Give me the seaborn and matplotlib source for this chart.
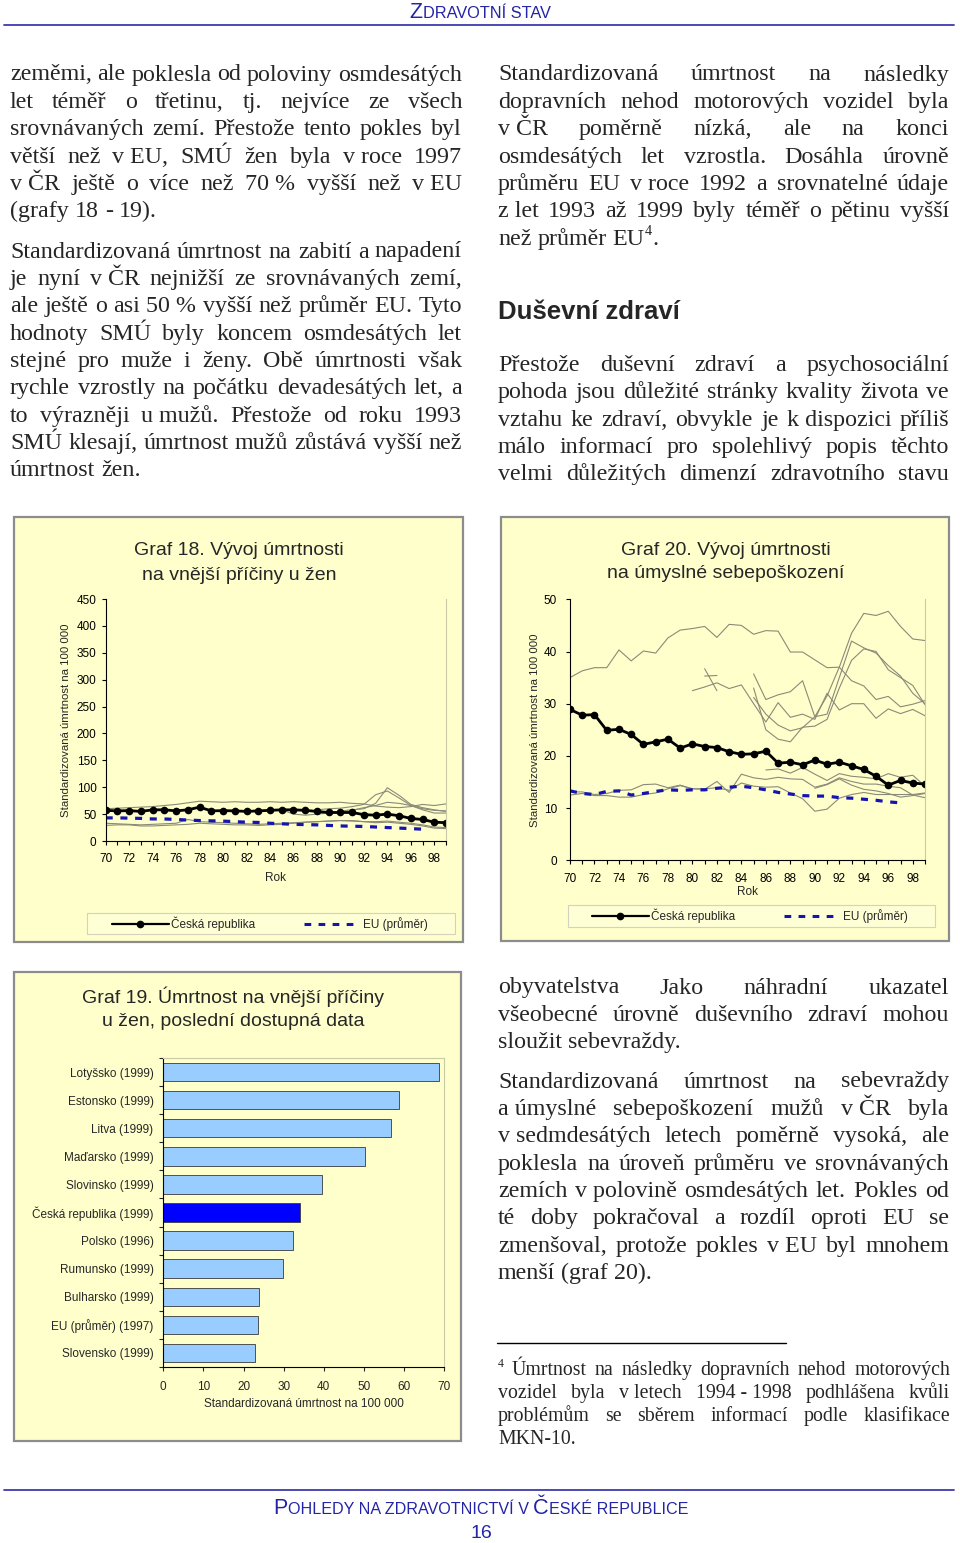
import numpy as np
import pandas as pd
import seaborn as sns
import matplotlib.pyplot as plt
from matplotlib.patches import Rectangle
from matplotlib.lines import Line2D

W, H = 960, 1543
SERIF = 'Liberation Serif'
SANS = 'Liberation Sans'

# ---- data: Graf 18 (vnější příčiny, ženy) ----
years = list(range(70, 100))
g18_cr = [57, 56, 56.5, 55, 58, 58, 56, 58, 63, 56, 56.5, 56, 55, 56, 57,
          58, 58, 57, 55, 53, 53, 53, 49, 48, 50, 47, 42, 40, 35, 34]
g18_eu = [43, 43, 42.5, 42, 41, 41, 40, 39, 38, 37.5, 37, 36, 35, 34.5, 33,
          32, 31, 30.5, 30, 29, 28, 27.5, 27, 26, 25, 24, 23, 22]
g18_other_a = [60, 61, 62, 63, 64, 66, 68, 71, 74, 73, 72, 73, 72, 72, 73,
               72, 73, 72, 71, 71, 72, 70, 69, 65, 63, 62, 64, 68, 66, 69]
g18_other_b = [58, 60, 61, 64, 68, 86, 93, 80, 66, 60, 57, 56]
g18_other_c = [56, 58, 60, 70, 99, 85, 68, 62, 58, 55]
g18_other_d = [58, 50, 48, 50, 52, 55, 57, 62, 66, 72, 70, 66, 58, 52, 52]
g18_other_e = [33, 32, 31, 30, 31, 32, 33, 40, 36, 35, 34, 33, 32, 31, 32,
               33, 34, 35, 36, 37, 38, 38, 36, 34, 35, 33, 31, 28, 24, 23]
g18_other_f = [29, 30, 30, 28, 28, 29, 30, 31, 33, 32, 31, 30, 30, 29, 30,
               31, 33, 35, 36, 37, 38, 37, 36, 36, 37, 35, 33, 30, 26, 25]
g18_other_start = [70, 88, 90, 85, 70, 70]

# ---- data: Graf 20 (úmyslné sebepoškození) ----
g20_cr = [28.9, 27.8, 27.9, 24.9, 25.1, 24.1, 22.2, 22.7, 23.2, 21.5, 22.3,
          21.8, 21.6, 20.8, 20.3, 20.4, 20.9, 18.6, 18.8, 18.3, 19.2, 18.4,
          18.8, 18.1, 17.4, 16.1, 14.4, 15.3, 14.8, 14.6]
g20_eu = [13.3, 12.8, 12.6, 13.2, 13.3, 12.5, 12.8, 13.2, 13.5, 13.4, 13.5,
          13.5, 13.8, 14.0, 14.2, 13.9, 13.5, 13.0, 12.7, 12.4, 12.3, 12.3,
          12.0, 11.9, 11.7, 11.5, 11.2, 11.0]
g20_other_a = [35, 36.3, 36.9, 36.9, 40.3, 38.2, 40.1, 39.7, 42.6, 44.1, 44.4,
               44.8, 42.7, 45.2, 45.0, 43.3, 44.0, 43.9, 39.9, 39.9, 38.4, 36.9,
               37.0, 34.4, 33.4, 30.8, 31.4, 29.4, 29.9, 30.6]
g20_other_b = [35.7, 30.8, 31.7, 32.3, 34.4, 27.5, 31.5, 37, 43.5, 47.3, 46.9,
               47.7, 44.8, 42.4, 42.1]
g20_other_c = [32.5, 33.2, 34, 32.9, 33.6, 30, 26.5, 30.2, 27.4, 28, 27, 32,
               28.8, 30, 30, 27.2, 29, 28.1, 28.9, 27.7]
g20_other_d = [31.2, 28, 25.9, 24.8, 25.4, 27.5, 28, 35, 42, 40.7, 39.7, 37.3,
               35.3, 32, 30]
g20_other_e = [33, 25, 23.2, 22.7, 25.5, 25.7, 27, 33, 38.3, 40.5, 40, 36.5,
               35, 33.5, 29.8]
g20_other_g = [36.7, 32.5]
g20_other_h = [35.3, 35.4]
g20_other_i = [12.5, 12.8, 12.4, 12.4, 12.1, 12.1, 12.6, 12.9, 13.7, 14.3, 13.7,
               13.6, 15.1, 13.0, 16.5, 15.8, 15.5, 15.9, 15.6, 15.5, 14.0, 14.6,
               15.8, 15.1, 14.6, 14.6, 14.2, 13.9, 12.5, 12.0]
g20_other_j = [13.1, 13.1, 12.6, 12.8, 13.4, 13.5, 14.5, 14.6, 13.9, 14.4, 13.7,
               13.7, 13.9, 13.4, 14.8, 14.2, 14.0, 14.1, 12.9, 11.8, 9.4, 9.8,
               11.9, 12.6, 13.0, 12.6, 12.6, 12.6, 12.6, 12.9]
g20_other_k = [17.3, 17.5, 16.7, 17.8, 16.5, 15.3, 16.6, 16.1, 15.9, 15.6, 16.6,
               15.9, 16.3, 14.2]
g20_other_l = [13.8, 14.5, 15.6, 14.4, 13.6, 13.3, 12.8, 12.1, 12.4, 12.8]
g20_other_start = [70, 85, 80, 85, 85, 81, 81, 70, 70, 86, 90]

# ---- data: Graf 19 (poslední dostupná data) ----
g19_countries = ['Lotyšsko (1999)', 'Estonsko (1999)', 'Litva (1999)',
                 'Maďarsko (1999)', 'Slovinsko (1999)', 'Česká republika (1999)',
                 'Polsko (1996)', 'Rumunsko (1999)', 'Bulharsko (1999)',
                 'EU (průměr) (1997)', 'Slovensko (1999)']
g19_values = [68.7, 58.7, 56.7, 50.4, 39.5, 34.1, 32.4, 29.8, 23.9, 23.5, 22.8]
g19_colors = ['#0000FF' if c.startswith('Česká') else '#99CCFF' for c in g19_countries]

YELLOW = '#FFFFCC'
GRAY_LINE = '#8a8a78'
EU_BLUE = '#1414B0'
PALE = '#C9C9A6'
HEAD_BLUE = '#2424A8'

sns.set_style('ticks')
plt.rcParams['font.family'] = [SANS, 'DejaVu Sans']

fig = plt.figure(figsize=(W / 100, H / 100), dpi=100)
fig.patch.set_facecolor('white')
renderer = fig.canvas.get_renderer()


def fx(x):
    return x / W


def fy(y):
    return 1 - y / H


def measure(s, size, family, weight='normal'):
    t = fig.text(0, 0, s, fontsize=size, family=family, weight=weight)
    w = t.get_window_extent(renderer=renderer).width
    t.remove()
    return w


def segments(word, size):
    parts = word.replace('~', '\u00a0').split('^')
    out = []
    for i, p in enumerate(parts):
        if not p:
            continue
        if i % 2:
            out.append((p, size * 0.6, size * 0.42 * 100 / 72))
        else:
            out.append((p, size, 0))
    return out


def draw_line(line, x0, x1, base, size, justify=True, family=SERIF):
    words = line.split(' ')
    segs = [segments(w, size) for w in words]
    widths = [sum(measure(s, fs, family) for s, fs, _ in sg) for sg in segs]
    if justify and len(words) > 1:
        gap = (x1 - x0 - sum(widths)) / (len(words) - 1)
    else:
        gap = measure('a a', size, family) - measure('aa', size, family)
    x = x0
    for sg in segs:
        for s, fs, dy in sg:
            fig.text(fx(x), fy(base - dy), s, fontsize=fs, family=family,
                     ha='left', va='baseline')
            x += measure(s, fs, family)
        x += gap


def paragraph(lines, x0, x1, base0, step, size, justify_last=False):
    for i, line in enumerate(lines):
        last = i == len(lines) - 1
        draw_line(line, x0, x1, base0 + i * step, size,
                  justify=(not last) or justify_last)


def small_caps(pieces, cx, base, color):
    widths = [measure(s, fs, SANS) + extra for s, fs, extra in pieces]
    x = cx - sum(widths) / 2
    for (s, fs, extra), w in zip(pieces, widths):
        fig.text(fx(x), fy(base), s, fontsize=fs, family=SANS, color=color,
                 ha='left', va='baseline')
        x += w


def panel(x0, y0, x1, y1):
    fig.add_artist(Rectangle((fx(x0), fy(y1)), (x1 - x0) / W, (y1 - y0) / H,
                             transform=fig.transFigure, facecolor=YELLOW,
                             edgecolor='#8c8c8c', lw=1.6, zorder=-1))


def axes_px(x0, y0, x1, y1):
    ax = fig.add_axes([fx(x0), fy(y1), (x1 - x0) / W, (y1 - y0) / H])
    ax.patch.set_alpha(0)
    return ax


def others_frame(series, starts):
    rows = []
    for k, (vals, st) in enumerate(zip(series, starts)):
        for i, v in enumerate(vals):
            rows.append({'year': st + i, 'value': v, 'country': k})
    return pd.DataFrame(rows)


def line_chart(ax, cr, eu, others, ymax, ystep):
    sns.lineplot(data=others, x='year', y='value', units='country',
                 estimator=None, color=GRAY_LINE, lw=0.8, ax=ax, legend=False)
    sns.lineplot(x=years[:len(eu)], y=eu, color=EU_BLUE, lw=2.3,
                 linestyle=(0, (2.2, 2.4)), ax=ax)
    sns.lineplot(x=years, y=cr, color='black', lw=2, marker='o',
                 markersize=5.5, markeredgecolor='black', markeredgewidth=0, ax=ax)
    ax.set_xlim(70, 99)
    ax.set_ylim(0, ymax)
    ax.set_xticks(years)
    ax.set_xticklabels([str(y) if y % 2 == 0 else '' for y in years])
    ax.set_yticks(np.arange(0, ymax + 1, ystep))
    ax.tick_params(axis='both', direction='out', length=3, width=0.8,
                   labelsize=8.5, colors='black')
    for s in ['left', 'bottom']:
        ax.spines[s].set_color('black')
        ax.spines[s].set_linewidth(0.8)
    ax.spines['top'].set_visible(False)
    ax.spines['right'].set_visible(True)
    ax.spines['right'].set_color(PALE)
    ax.spines['right'].set_linewidth(0.8)
    ax.set_xlabel('Rok', fontsize=8.5)
    ax.set_ylabel('Standardizovaná úmrtnost na 100 000', fontsize=8.2)


legend_handles = [
    Line2D([], [], color='black', lw=1.6, marker='o', markersize=4.5),
    Line2D([], [], color=EU_BLUE, lw=2.2, linestyle=(0, (2.2, 2.4))),
]
legend_labels = ['Česká republika', 'EU (průměr)']


def legend_box(x0, y0, x1, y1, hx):
    fig.add_artist(Rectangle((fx(x0), fy(y1)), (x1 - x0) / W, (y1 - y0) / H,
                             transform=fig.transFigure, facecolor='#FFFFD6',
                             edgecolor='#D2D2BE', lw=0.8, zorder=1))
    fig.legend(legend_handles, legend_labels, loc='center left',
               bbox_to_anchor=(fx(hx), fy((y0 + y1) / 2)), frameon=False,
               ncol=2, handlelength=4.8, handletextpad=0.2, columnspacing=4.1,
               fontsize=8.5, borderpad=0, borderaxespad=0)


# ---- header / footer ----
small_caps([('Z', 15.5, 0), ('DRAVOTNÍ STAV', 11.8, 0)], 480, 18, HEAD_BLUE)
fig.add_artist(Line2D([fx(4), fx(954)], [fy(25), fy(25)], color='#3c3cae', lw=1.3))
fig.add_artist(Line2D([fx(4), fx(954)], [fy(1490), fy(1490)], color='#3c3cae', lw=1.3))
small_caps([('P', 15.5, 0), ('OHLEDY NA ZDRAVOTNICTVÍ V', 11.6, 4.5), ('Č', 15.5, 0),
            ('ESKÉ REPUBLICE', 11.6, 0)], 481, 1514, HEAD_BLUE)
fig.text(fx(481), fy(1538), '16', fontsize=14, family=SANS, color=HEAD_BLUE,
         ha='center', va='baseline')

# ---- body text ----
BODY = 17.3
STEP = 27.35
paragraph(['zeměmi, ale poklesla od poloviny osmdesátých',
           'let téměř o třetinu, tj. nejvíce ze všech',
           'srovnávaných zemí. Přestože tento pokles byl',
           'větší než v~EU, SMÚ žen byla v~roce 1997',
           'v~ČR ještě o více než 70~% vyšší než v~EU',
           '(grafy 18 - 19).'], 10, 462, 80.5, STEP, BODY)
paragraph(['Standardizovaná úmrtnost na zabití a napadení',
           'je nyní v~ČR nejnižší ze srovnávaných zemí,',
           'ale ještě o asi 50~% vyšší než průměr EU. Tyto',
           'hodnoty SMÚ byly koncem osmdesátých let',
           'stejné pro muže i ženy. Obě úmrtnosti však',
           'rychle vzrostly na počátku devadesátých let, a',
           'to výrazněji u~mužů. Přestože od roku 1993',
           'SMÚ klesají, úmrtnost mužů zůstává vyšší než',
           'úmrtnost žen.'], 10, 462, 257.5, STEP, BODY)
paragraph(['Standardizovaná úmrtnost na následky',
           'dopravních nehod motorových vozidel byla',
           'v~ČR poměrně nízká, ale na konci',
           'osmdesátých let vzrostla. Dosáhla úrovně',
           'průměru EU v~roce 1992 a srovnatelné údaje',
           'z~let 1993 až 1999 byly téměř o pětinu vyšší',
           'než průměr EU^4^.'], 498, 949, 80.5, STEP, BODY)
fig.text(fx(498), fy(319), 'Duševní zdraví', fontsize=18.5, family=SANS,
         weight='bold', ha='left', va='baseline')
paragraph(['Přestože duševní zdraví a psychosociální',
           'pohoda jsou důležité stránky kvality života ve',
           'vztahu ke zdraví, obvykle je k~dispozici příliš',
           'málo informací pro spolehlivý popis těchto',
           'velmi důležitých dimenzí zdravotního stavu'],
          498, 949, 371, STEP, BODY, justify_last=True)
paragraph(['obyvatelstva Jako náhradní ukazatel',
           'všeobecné úrovně duševního zdraví mohou',
           'sloužit sebevraždy.'], 498, 949, 993.5, STEP, BODY)
paragraph(['Standardizovaná úmrtnost na sebevraždy',
           'a~úmyslné sebepoškození mužů v~ČR byla',
           'v~sedmdesátých letech poměrně vysoká, ale',
           'poklesla na úroveň průměru ve srovnávaných',
           'zemích v~polovině osmdesátých let. Pokles od',
           'té doby pokračoval a rozdíl oproti EU se',
           'zmenšoval, protože pokles v~EU byl mnohem',
           'menší (graf 20).'], 498, 949, 1087.5, STEP, BODY)
fig.add_artist(Line2D([fx(497), fx(786)], [fy(1342.5), fy(1342.5)], color='black', lw=1))
paragraph(['^4^ Úmrtnost na následky dopravních nehod motorových',
           'vozidel byla v~letech 1994~-~1998 podhlášena kvůli',
           'problémům se sběrem informací podle klasifikace',
           'MKN-10.'], 498, 950, 1375, 23.1, 14.3)

# ---- Graf 18 ----
panel(14, 517, 463, 942)
fig.text(fx(239), fy(550), 'Graf 18. Vývoj úmrtnosti', fontsize=14, ha='center', va='center')
fig.text(fx(239), fy(576), 'na vnější příčiny u žen', fontsize=14, ha='center', va='center')
ax18 = axes_px(105.7, 599, 446, 841)
g18_others = others_frame([g18_other_a, g18_other_b, g18_other_c, g18_other_d,
                           g18_other_e, g18_other_f], g18_other_start)
line_chart(ax18, g18_cr, g18_eu, g18_others, 450, 50)
ax18.tick_params(axis='x', pad=6)
ax18.tick_params(axis='y', pad=3.6)
ax18.yaxis.set_label_coords((66 - 105.7) / 340.3, 0.5)
ax18.yaxis.label.set(va='center', ha='center')
ax18.xaxis.set_label_coords(0.5, (841 - 878) / 242)
ax18.xaxis.label.set(va='center')
legend_box(86.7, 912.7, 454.7, 934.3, 112)

# ---- Graf 20 ----
panel(501, 517, 949, 941)
fig.text(fx(726), fy(550), 'Graf 20. Vývoj úmrtnosti', fontsize=14, ha='center', va='center')
fig.text(fx(726), fy(574), 'na úmyslné sebepoškození', fontsize=14, ha='center', va='center')
ax20 = axes_px(570, 599.3, 925, 860.3)
g20_others = others_frame([g20_other_a, g20_other_b, g20_other_c, g20_other_d,
                           g20_other_e, g20_other_g, g20_other_h, g20_other_i,
                           g20_other_j, g20_other_k, g20_other_l], g20_other_start)
line_chart(ax20, g20_cr, g20_eu, g20_others, 50, 10)
ax20.tick_params(axis='x', pad=6.3)
ax20.tick_params(axis='y', pad=6.5)
ax20.yaxis.set_label_coords((535 - 570) / 355, 0.5)
ax20.yaxis.label.set(va='center', ha='center')
ax20.xaxis.set_label_coords(0.5, (860.3 - 892) / 261)
ax20.xaxis.label.set(va='center')
legend_box(568, 904.7, 935, 927, 592)

# ---- Graf 19 ----
panel(14, 972, 461, 1441)
fig.text(fx(233), fy(997), 'Graf 19. Úmrtnost na vnější příčiny', fontsize=14, ha='center', va='center')
fig.text(fx(233), fy(1021), 'u žen, poslední dostupná data', fontsize=14, ha='center', va='center')
ax19 = axes_px(163.3, 1058, 444, 1367)
sns.barplot(x=g19_values, y=g19_countries, hue=g19_countries, palette=g19_colors,
            saturation=1, legend=False, orient='h', width=0.66,
            edgecolor='#3a3a3a', linewidth=0.6, ax=ax19)
ax19.set_xlim(0, 70)
ax19.set_ylim(10.5, -0.5)
ax19.set_xticks(np.arange(0, 71, 10))
ax19.set_yticks(np.arange(-0.5, 11, 1), minor=True)
ax19.tick_params(axis='x', direction='out', length=3, width=0.8, labelsize=8.5, pad=6.8)
ax19.tick_params(axis='y', which='major', length=0, labelsize=8.5, pad=7)
ax19.tick_params(axis='y', which='minor', direction='out', length=3, width=0.8)
for s in ['left', 'bottom']:
    ax19.spines[s].set_color('black')
    ax19.spines[s].set_linewidth(0.8)
for s in ['top', 'right']:
    ax19.spines[s].set_visible(True)
    ax19.spines[s].set_color(PALE)
    ax19.spines[s].set_linewidth(0.8)
ax19.set_ylabel('')
ax19.set_xlabel('Standardizovaná úmrtnost na 100 000', fontsize=8.5)
ax19.xaxis.set_label_coords(0.5, (1367 - 1404) / 309)
ax19.xaxis.label.set(va='center')

fig.savefig('out.png', dpi=100, facecolor='white')
